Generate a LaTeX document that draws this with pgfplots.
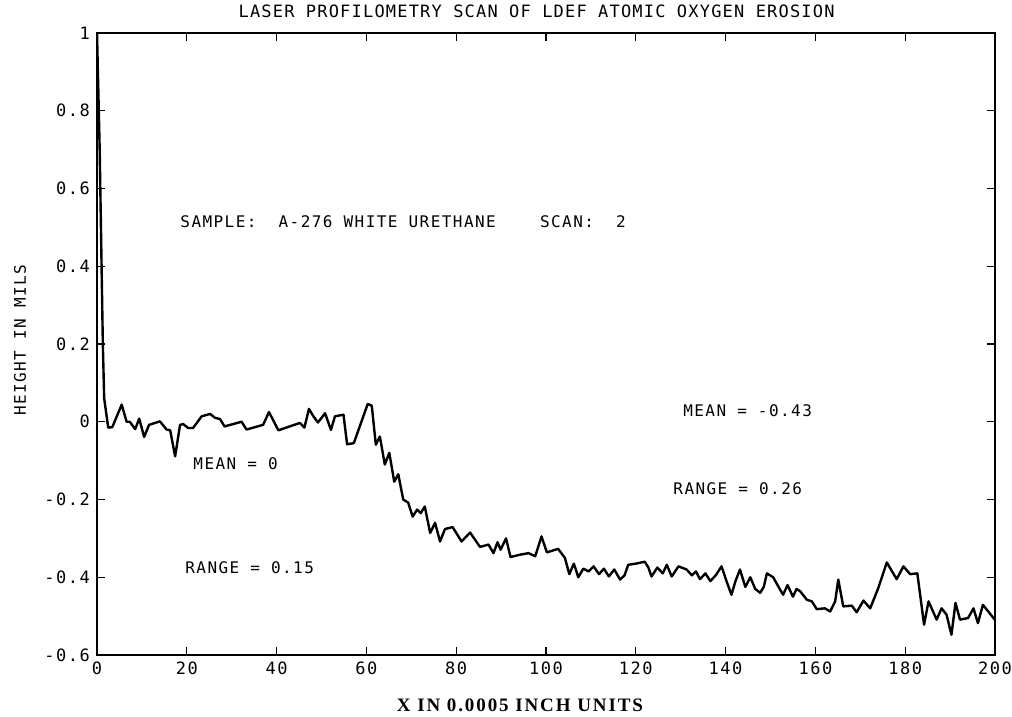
\documentclass[border=0pt]{standalone}
\usepackage{pgfplots}
\pgfplotsset{compat=1.18}
\usepackage{fontspec}
\setmainfont{DejaVu Sans Mono}
\newfontfamily\titlefont{DejaVu Sans Mono}[LetterSpace=7]
\newfontfamily\notefont{DejaVu Sans Mono}[LetterSpace=9]
\newfontfamily\labfont{Liberation Serif}[LetterSpace=10]

\begin{document}
\begin{tikzpicture}
\begin{axis}[
  name=ax,
  scale only axis,
  width=449pt, height=311pt,
  xmin=0, xmax=200, ymin=-0.6, ymax=1,
  xtick={0,20,40,60,80,100,120,140,160,180,200},
  xticklabels={0,20,40,60,80,100,120,140,160,180,200},
  ytick={-0.6,-0.4,-0.2,0,0.2,0.4,0.6,0.8,1},
  yticklabels={-0.6,-0.4,-0.2,0,0.2,0.4,0.6,0.8,1},
  tick align=inside,
  major tick length=4pt,
  tick style={black, line width=0.6pt},
  axis line style={line width=0.8pt},
  ticklabel style={font=\notefont\fontsize{8.5}{9}\selectfont},
  xlabel={X IN 0.0005 INCH UNITS},
  xlabel style={font=\labfont\bfseries\fontsize{9.5}{10}\selectfont,
    at={(axis description cs:0.471,-0.0916)}, anchor=base},
  ylabel={HEIGHT IN MILS},
  ylabel style={font=\notefont\fontsize{8}{9}\selectfont,
    at={(axis description cs:-0.0857,0.506)}, anchor=center},
]
\addplot[black, line width=1.2pt, line join=round, mark=none] coordinates {
(0,1.0) (0.6,0.70) (1.3,0.20) (1.6,0.06) (2.5,-0.015) (3.4,-0.014)
(5.5,0.044) (6.6,0.0) (7.3,0.0) (8.5,-0.019) (9.4,0.008) (10.5,-0.039)
(11.6,-0.008) (14.0,0.001) (15.5,-0.02) (16.3,-0.022) (17.4,-0.089)
(18.5,-0.008) (19.2,-0.006) (20.3,-0.016) (21.4,-0.016) (23.3,0.014)
(25.2,0.02) (26.3,0.01) (27.4,0.007) (28.4,-0.012) (32.2,0.0) (33.3,-0.02)
(37.0,-0.008) (38.3,0.025) (40.4,-0.022) (45.2,-0.003) (46.2,-0.015)
(47.2,0.033) (48.2,0.014) (49.2,-0.002) (50.8,0.022) (52.1,-0.021)
(53.0,0.014) (54.9,0.018) (55.7,-0.058) (57.2,-0.055) (60.3,0.046)
(61.2,0.041) (62.1,-0.059) (63.0,-0.038) (64.1,-0.11) (65.1,-0.08)
(66.2,-0.154) (67.1,-0.135) (68.2,-0.2) (69.3,-0.208) (70.3,-0.244)
(71.3,-0.226) (72.1,-0.235) (73.0,-0.218) (74.2,-0.286) (75.3,-0.26)
(76.4,-0.308) (77.5,-0.276) (79.2,-0.271) (81.2,-0.308) (83.1,-0.285)
(85.3,-0.322) (87.2,-0.316) (88.3,-0.338) (89.2,-0.31) (89.9,-0.329)
(91.1,-0.30) (92.1,-0.348) (94.2,-0.342) (96.1,-0.338) (97.6,-0.346)
(99.0,-0.295) (100.2,-0.336) (102.7,-0.327) (104.2,-0.35) (105.2,-0.392)
(106.2,-0.365) (107.2,-0.40) (108.3,-0.378) (109.5,-0.385) (110.6,-0.372)
(111.8,-0.392) (112.9,-0.378) (114.0,-0.398) (115.2,-0.38) (116.5,-0.406)
(117.5,-0.395) (118.3,-0.368) (120.0,-0.365) (122.0,-0.36) (122.8,-0.375)
(123.5,-0.398) (124.8,-0.375) (126.0,-0.39) (126.9,-0.368) (128.0,-0.398)
(129.5,-0.372) (131.3,-0.38) (132.5,-0.395) (133.4,-0.385) (134.3,-0.405)
(135.5,-0.39) (136.6,-0.41) (137.8,-0.395) (139.1,-0.372) (140.2,-0.41)
(141.3,-0.445) (142.2,-0.41) (143.2,-0.38) (144.4,-0.425) (145.5,-0.40)
(146.6,-0.43) (147.7,-0.44) (148.5,-0.425) (149.2,-0.39) (150.6,-0.40)
(151.8,-0.425) (152.8,-0.445) (153.8,-0.42) (155.0,-0.45) (155.8,-0.43)
(156.6,-0.436) (158.1,-0.458) (159.2,-0.462) (160.3,-0.482) (162.1,-0.48)
(163.3,-0.488) (164.4,-0.462) (165.1,-0.406) (166.2,-0.475) (168.1,-0.473)
(169.2,-0.49) (170.7,-0.46) (172.2,-0.48) (174.0,-0.428) (175.9,-0.362)
(178.1,-0.405) (179.6,-0.372) (181.1,-0.392) (182.7,-0.39) (184.2,-0.522)
(185.2,-0.462) (187.0,-0.509) (188.1,-0.48) (189.2,-0.496) (190.3,-0.548)
(191.2,-0.466) (192.2,-0.509) (194.0,-0.505) (195.2,-0.48) (196.2,-0.518)
(197.3,-0.471) (198.5,-0.488) (200.0,-0.51)
};
\begin{scope}[every node/.style={anchor=west, inner sep=0pt, font=\notefont\fontsize{8}{9}\selectfont}]
\node at (axis cs:18.5,0.515) {SAMPLE:\ \ A-276 WHITE URETHANE\ \ \ \ SCAN:\ \ 2};
\node at (axis cs:21.4,-0.108) {MEAN = 0};
\node at (axis cs:19.6,-0.376) {RANGE = 0.15};
\node at (axis cs:130.5,0.028) {MEAN = -0.43};
\node at (axis cs:128.3,-0.172) {RANGE = 0.26};
\end{scope}
\end{axis}
\node[anchor=base, font=\titlefont\fontsize{8.5}{10}\selectfont]
  at ([xshift=-4.7pt,yshift=7.5pt]ax.north) {LASER PROFILOMETRY SCAN OF LDEF ATOMIC OXYGEN EROSION};
\pgfresetboundingbox
\path[use as bounding box] ([xshift=-48.5pt,yshift=-31pt]ax.south west) rectangle ([xshift=8.5pt,yshift=16.5pt]ax.north east);
\end{tikzpicture}
\end{document}
